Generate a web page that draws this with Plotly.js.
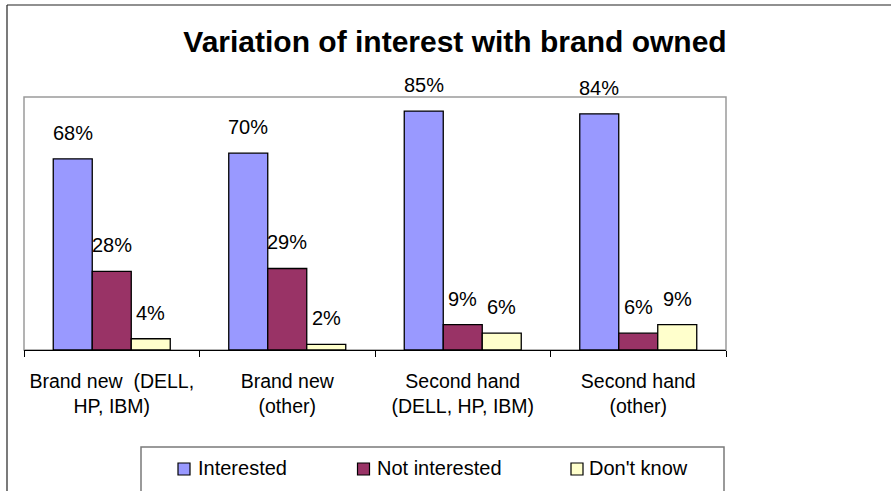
<!DOCTYPE html>
<html>
<head>
<meta charset="utf-8">
<script src="https://cdn.plot.ly/plotly-3.0.1.min.js"></script>
<style>html,body{margin:0;padding:0;background:#fff;}</style>
</head>
<body>
<div id="chart" style="width:891px;height:491px;"></div>
<script>
// ---- data ----
const categories = ["Brand new  (DELL,<br>HP, IBM)", "Brand new<br>(other)", "Second hand<br>(DELL, HP, IBM)", "Second hand<br>(other)"];
const seriesNames = ["Interested", "Not interested", "Don't know"];
const interested = [0.68, 0.70, 0.85, 0.84];
const notInterested = [0.28, 0.29, 0.09, 0.06];
const dontKnow = [0.04, 0.02, 0.06, 0.09];
const titleText = "Variation of interest with brand owned";

// ---- style ----
const seriesValues = [interested, notInterested, dontKnow];
const seriesColors = ["#9999FF", "#993366", "#FFFFCC"];
const FONT = "'Liberation Sans', Arial, Helvetica, sans-serif";
const W = 891, H = 491, L = 24, R = 165, T = 97, B = 141;
const pw = W - L - R, ph = H - T - B;
const px2x = p => (p - L) / pw;
const py2y = p => (H - B - p) / ph;

const traces = seriesValues.map((vals, i) => ({
  type: "bar",
  name: seriesNames[i],
  x: categories,
  y: vals,
  marker: {color: seriesColors[i], line: {color: "#000", width: 1.3}},
  showlegend: false,
  hoverinfo: "skip"
}));

const barW = pw / categories.length * (2 / 3) / seriesValues.length;
const annotations = [];
seriesValues.forEach((vals, i) => {
  vals.forEach((v, j) => {
    annotations.push({
      xref: "x", yref: "y", x: categories[j], y: v,
      xshift: (i - 1) * barW, yshift: 26,
      text: Math.round(v * 100) + "%",
      showarrow: false, yanchor: "middle", xanchor: "center",
      font: {family: FONT, size: 20, color: "#000"}
    });
  });
});

// manual legend (Excel-style spacing)
const legendSquares = [178, 357.5, 571];
const legendTexts = [196, 375, 587];
const shapes = [
  // plot area border
  {type: "rect", xref: "paper", yref: "paper", x0: 0, x1: 1, y0: 0, y1: 1,
   line: {color: "#9a9a9a", width: 1.5}, layer: "below"},
  // outer chart border
  {type: "line", xref: "paper", yref: "paper", x0: px2x(7), x1: px2x(900), y0: py2y(5), y1: py2y(5),
   line: {color: "#222", width: 1.2}},
  {type: "line", xref: "paper", yref: "paper", x0: px2x(7), x1: px2x(7), y0: py2y(5), y1: py2y(500),
   line: {color: "#222", width: 1.2}},
  // legend box
  {type: "rect", xref: "paper", yref: "paper", x0: px2x(141), x1: px2x(724), y0: py2y(447), y1: py2y(510),
   line: {color: "#7a7a7a", width: 1.5}}
];
seriesNames.forEach((n, i) => {
  shapes.push({type: "rect", xref: "paper", yref: "paper",
    x0: px2x(legendSquares[i]), x1: px2x(legendSquares[i] + 12),
    y0: py2y(463), y1: py2y(475),
    fillcolor: seriesColors[i], line: {color: "#000", width: 1.2}});
  annotations.push({xref: "paper", yref: "paper", x: px2x(legendTexts[i]), y: py2y(468),
    xanchor: "left", yanchor: "middle", showarrow: false, text: n,
    font: {family: FONT, size: 20, color: "#000"}});
});

const layout = {
  width: W, height: H,
  margin: {l: L, r: R, t: T, b: B, pad: 0},
  paper_bgcolor: "#fff", plot_bgcolor: "#fff",
  font: {family: FONT, color: "#000"},
  title: {text: titleText, font: {family: FONT, size: 30, weight: 700, color: "#000"},
          xref: "container", x: 455 / W, xanchor: "center",
          yref: "container", y: 1 - 41 / H, yanchor: "middle"},
  barmode: "group", bargap: 1 / 3, bargroupgap: 0,
  xaxis: {type: "category", showline: true, linecolor: "#000", linewidth: 1.2,
          ticks: "outside", tickson: "boundaries", ticklen: 6, tickcolor: "#000", tickwidth: 1,
          ticklabelstandoff: 13,
          tickfont: {family: FONT, size: 19.5, color: "#000"}, showgrid: false, zeroline: false,
          fixedrange: true},
  yaxis: {range: [0, 0.9], showticklabels: false, ticks: "", showgrid: false, zeroline: false,
          showline: false, fixedrange: true},
  shapes: shapes,
  annotations: annotations,
  showlegend: false
};

Plotly.newPlot("chart", traces, layout, {displayModeBar: false, staticPlot: true});
</script>
</body>
</html>
